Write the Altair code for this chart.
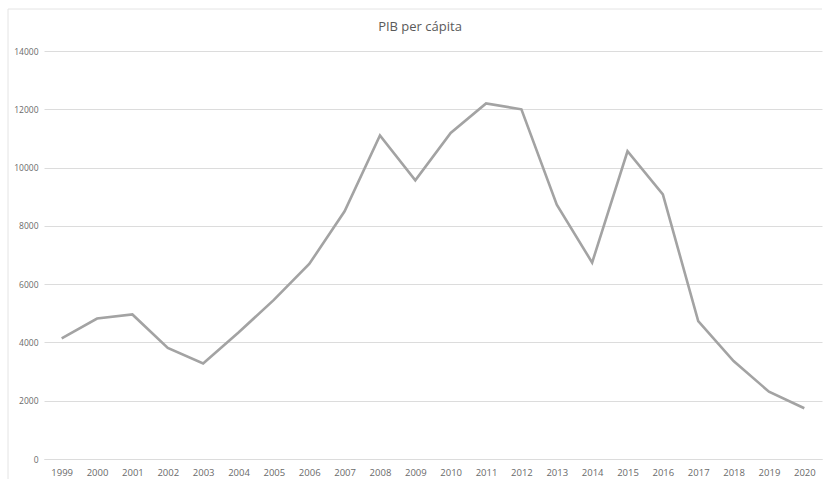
import altair as alt
import pandas as pd

# GDP per capita series
years = [str(y) for y in range(1999, 2021)]
pib = [4140, 4820, 4960, 3810, 3280, 4340, 5460, 6690, 8500, 11100, 9560,
       11190, 12200, 12000, 8730, 6740, 10560, 9080, 4730, 3360, 2310, 1740]
y_ticks = [0, 2000, 4000, 6000, 8000, 10000, 12000, 14000]
title_text = "PIB per cápita"

df = pd.DataFrame({"year": years, "pib": pib})

W, H = 778, 408
FONT = "Open Sans"
LABEL = "#6a6a6a"

line = alt.Chart(df).mark_line(color="#a3a3a3", strokeWidth=2.6).encode(
    x=alt.X("year:O", sort=years,
            scale=alt.Scale(type="point", padding=0.5),
            axis=alt.Axis(title=None, labelAngle=0, ticks=False,
                          domainColor="#dcdcdc", domainWidth=1,
                          labelColor=LABEL, labelFontSize=9.5, labelFont=FONT,
                          labelPadding=8, grid=False)),
    y=alt.Y("pib:Q", scale=alt.Scale(domain=[0, 14000], nice=False),
            axis=alt.Axis(title=None, values=y_ticks, format="d",
                          ticks=False, domain=False,
                          gridColor="#dcdcdc", gridWidth=1,
                          labelColor=LABEL, labelFontSize=8.5, labelFont=FONT,
                          labelPadding=6)),
)

# chart title drawn as text centred over the plot
title = alt.Chart(pd.DataFrame({"t": [title_text]})).mark_text(
    font=FONT, fontSize=13, color="#5a5a5a", baseline="middle", align="center"
).encode(x=alt.value(376), y=alt.value(-24), text="t:N")

# faint sheet frame around the chart object
frame_top = alt.Chart(pd.DataFrame({"a": [0]})).mark_rule(
    color="#e4e4e4", strokeWidth=1
).encode(x=alt.value(-36), x2=alt.value(W), y=alt.value(-42))
frame_left = alt.Chart(pd.DataFrame({"a": [0]})).mark_rule(
    color="#e4e4e4", strokeWidth=1
).encode(x=alt.value(-36), y=alt.value(-42), y2=alt.value(H + 20))

chart = alt.layer(frame_top, frame_left, line, title).properties(
    width=W, height=H,
    autosize=alt.AutoSizeParams(type="none"),
    padding={"left": 44, "top": 51, "right": 1, "bottom": 20},
    background="white",
).configure_view(stroke=None)

chart.save("out.html", embed_options={"renderer": "svg", "actions": False})
